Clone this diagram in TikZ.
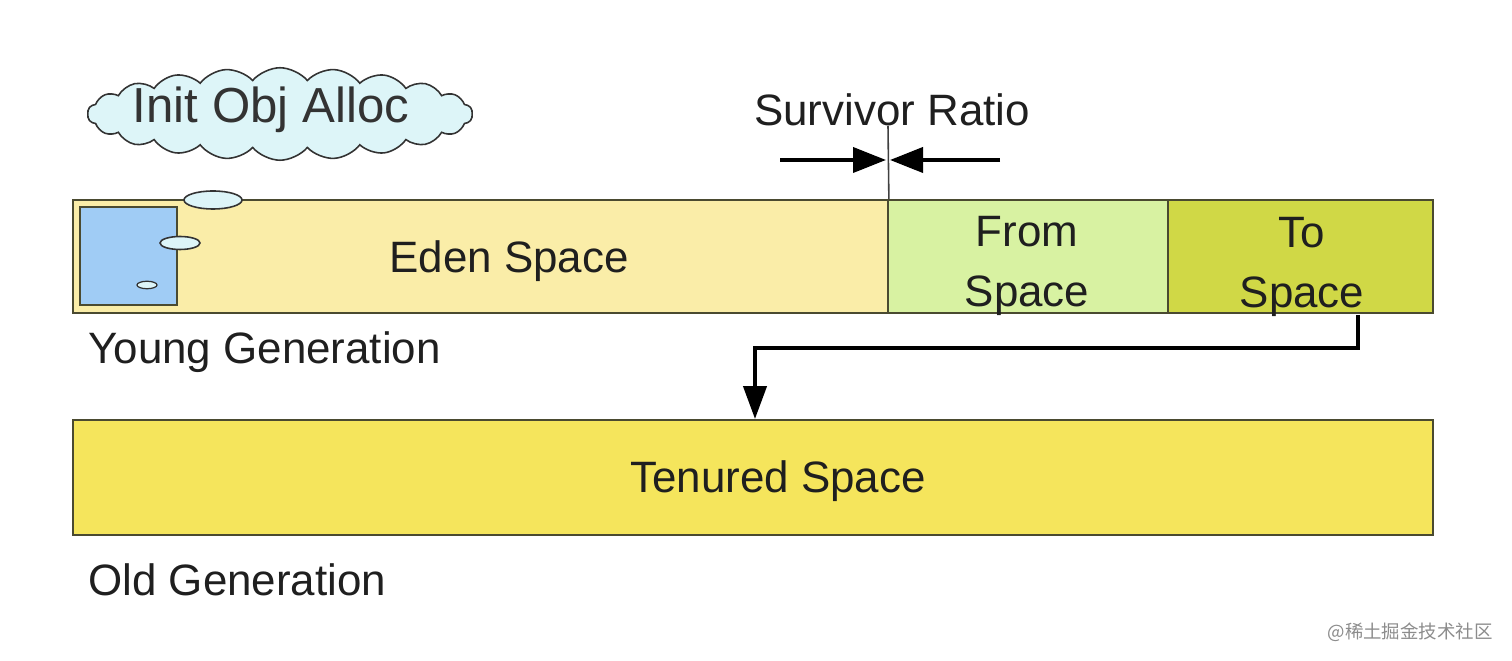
\documentclass[tikz,border=0pt]{standalone}
\usepackage{fontspec}
\setmainfont{Liberation Sans}
\newfontfamily\cjk{Noto Sans CJK SC}
\usetikzlibrary{shapes.symbols,shapes.geometric,arrows.meta,calc}
\definecolor{edenc}{HTML}{FAEDA8}
\definecolor{fromc}{HTML}{D8F2A2}
\definecolor{toc}{HTML}{D0D846}
\definecolor{tenc}{HTML}{F5E55C}
\definecolor{bluec}{HTML}{A0CCF5}
\definecolor{cloudc}{HTML}{DDF5F8}
\definecolor{bordc}{HTML}{4A4A30}
\tikzset{
  x=0.02cm, y=-0.02cm,
  area/.style={draw=bordc, line width=1.1pt, rectangle, inner sep=0pt},
  lbl/.style={font=\fontsize{25}{34}\selectfont, text=black!88, inner sep=0pt, align=center},
  puff/.style={draw=black!80, fill=cloudc, ellipse, inner sep=0pt, line width=0.9pt},
  bigarrow/.style={line width=2.2pt, -{Triangle[length=0.66cm,width=0.5cm]}},
}
\begin{document}
\begin{tikzpicture}
\useasboundingbox (0,0) rectangle (1512,661);
% young generation
\node[area, fill=edenc, minimum width=16.3cm, minimum height=2.26cm] (eden) at (480.5,256.5) {};
\node[area, fill=fromc, minimum width=5.6cm, minimum height=2.26cm] (from) at (1028,256.5) {};
\node[area, fill=toc, minimum width=5.3cm, minimum height=2.26cm] (tospace) at (1300.5,256.5) {};
\node[area, fill=bluec, line width=0.9pt, minimum width=1.94cm, minimum height=1.96cm] (blue) at (128.5,256) {};
\node[lbl] (edent) at (509,261) {Eden Space};
\node[lbl] (fromt) at (1027,266) {From\\Space};
\node[lbl] (tot) at (1302,267) {To\\Space};
\node[lbl, anchor=west] (young) at (88,352) {Young Generation};
% old generation
\node[area, fill=tenc, minimum width=27.2cm, minimum height=2.3cm] (tenured) at (753,477.5) {};
\node[lbl] (tent) at (778,481) {Tenured Space};
\node[lbl, anchor=west] (old) at (88,580) {Old Generation};
% cloud
\node[cloud, cloud puffs=22, cloud puff arc=100, cloud ignores aspect, draw=black!80, line width=0.9pt, fill=cloudc,
      minimum width=7.7cm, minimum height=1.85cm, inner sep=0pt] (cloud) at (280,114) {};
\node[lbl, font=\fontsize{28}{34}\selectfont, text=black!80] (cloudt) at (271,110) {Init Obj Alloc};
\node[puff, minimum width=1.16cm, minimum height=0.36cm] (p1) at (213,200) {};
\node[puff, minimum width=0.8cm, minimum height=0.26cm] (p2) at (180,243) {};
\node[puff, minimum width=0.4cm, minimum height=0.15cm, line width=0.7pt] (p3) at (147,285) {};
% survivor ratio
\node[lbl] (srt) at (892,110) {Survivor Ratio};
\coordinate (srtop) at (888,126);
\draw[black!75, line width=0.9pt] (srtop) -- (eden.north east);
\coordinate (la) at (780,160);
\coordinate (lb) at (886,160);
\coordinate (ra) at (1000,160);
\coordinate (rb) at (890,160);
\draw[bigarrow] (la) -- (lb);
\draw[bigarrow] (ra) -- (rb);
% promotion arrow
\coordinate (pstart) at ($(tospace.south)+(57.5,1)$);
\draw[line width=2.4pt, -{Triangle[length=0.66cm,width=0.46cm]}, line join=miter]
  (pstart) |- ($(tenured.north)+(2,-71)$) -- ($(tenured.north)+(2,0)$);
% watermark
\node[font=\cjk\fontsize{10.5}{12}\selectfont, text=black!45, anchor=east, inner sep=0pt] (wm) at (1493,632) {@稀土掘金技术社区};
\end{tikzpicture}
\end{document}
